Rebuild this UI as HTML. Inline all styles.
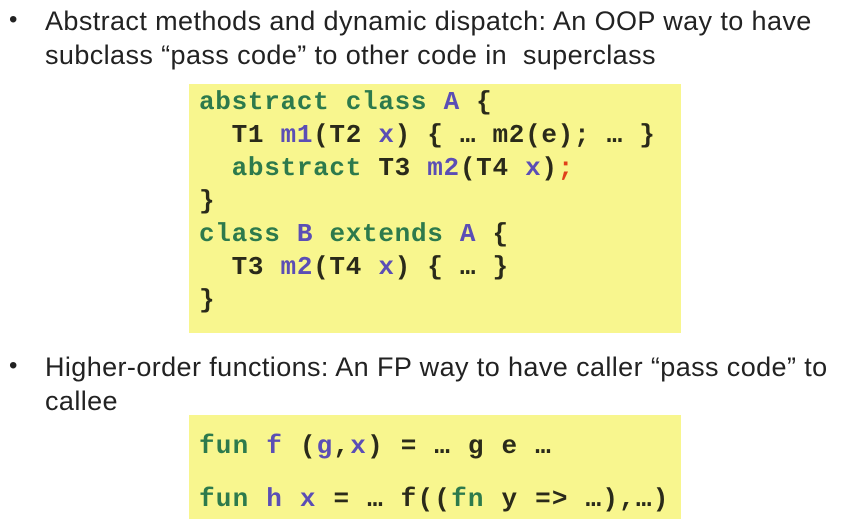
<!DOCTYPE html>
<html><head><style>
body{margin:0;width:855px;height:519px;background:#fff;position:relative;overflow:hidden;font-family:"Liberation Sans",sans-serif;color:#222}
.t{position:absolute;left:45px;font-size:27px;line-height:34px;letter-spacing:0.4px;white-space:nowrap}
.b{position:absolute;left:9px;font-size:24px}
.box{position:absolute;background:#f8f68e}
pre{margin:0;position:absolute;font-family:"Liberation Mono",monospace;font-weight:bold;font-size:26px;letter-spacing:0.7px;color:#2a2a1a;white-space:pre}
.g{color:#2d7a4c}.p{color:#5b4eb5}.r{color:#e0401a}
</style></head><body>
<div class="b" style="top:6px">•</div>
<div class="t" style="top:4px">Abstract methods and dynamic dispatch: An OOP way to have<br>subclass “pass code” to other code in&nbsp; superclass</div>
<div class="box" style="left:189px;top:84px;width:492px;height:249px"></div>
<pre style="left:199px;top:86px;line-height:33px"><span class="g">abstract class</span> <span class="p">A</span> {
  T1 <span class="p">m1</span>(T2 <span class="p">x</span>) { … m2(e); … }
  <span class="g">abstract</span> T3 <span class="p">m2</span>(T4 <span class="p">x</span>)<span class="r">;</span>
}
<span class="g">class</span> <span class="p">B</span> <span class="g">extends</span> <span class="p">A</span> {
  T3 <span class="p">m2</span>(T4 <span class="p">x</span>) { … }
}</pre>
<div class="b" style="top:352px">•</div>
<div class="t" style="top:350px">Higher-order functions: An FP way to have caller “pass code” to<br>callee</div>
<div class="box" style="left:189px;top:415px;width:492px;height:104px"></div>
<pre style="left:199px;top:420px;line-height:53px;letter-spacing:1.2px"><span class="g">fun</span> <span class="p">f</span> (<span class="p">g</span>,<span class="p">x</span>) = … g e …
<span class="g">fun</span> <span class="p">h</span> <span class="p">x</span> = … f((<span class="g">fn</span> y =&gt; …),…)</pre>
</body></html>
